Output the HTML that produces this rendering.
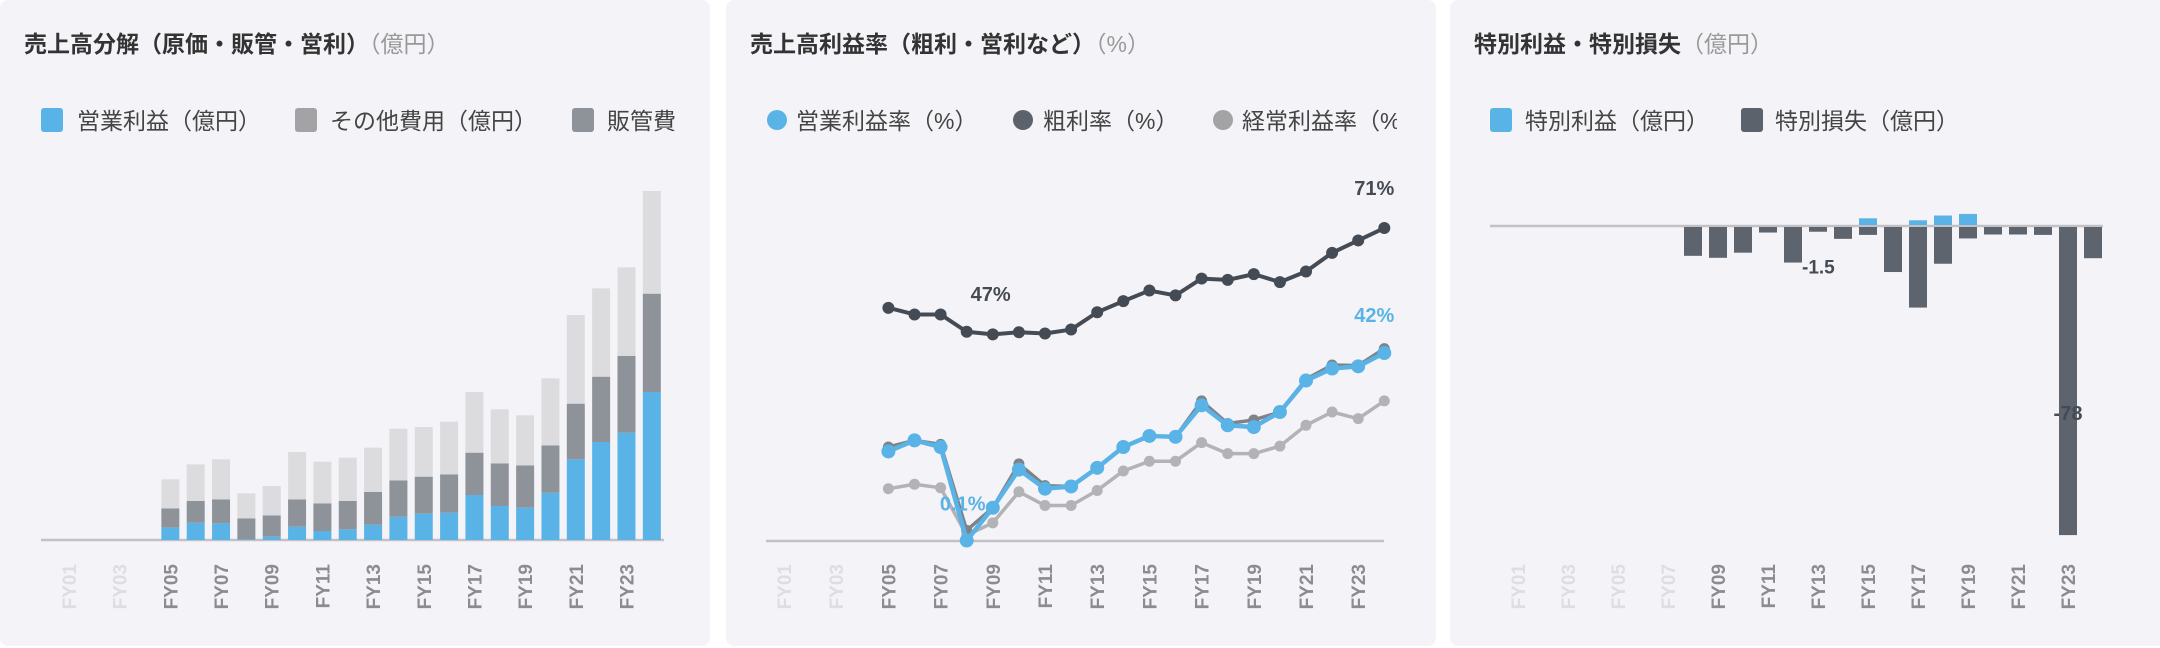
<!DOCTYPE html>
<html><head><meta charset="utf-8">
<style>
html,body{margin:0;padding:0;background:#fff;width:2160px;height:648px;overflow:hidden}
svg{display:block;font-family:"Liberation Sans","Noto Sans CJK JP",sans-serif}
</style></head>
<body>
<svg id="c" width="2160" height="648" viewBox="0 0 2160 648" xmlns="http://www.w3.org/2000/svg">
  <rect x="0" y="0" width="710" height="646" rx="8" fill="#f4f4f8"/>
  <rect x="726" y="0" width="710" height="646" rx="8" fill="#f4f4f8"/>
  <rect x="1450" y="0" width="716" height="646" rx="8" fill="#f4f4f8"/>

  <text x="24" y="52" font-size="23" font-weight="bold" fill="#333">売上高分解（原価・販管・営利）<tspan font-weight="normal" fill="#999">（億円）</tspan></text>
  <rect x="41" y="108" width="22" height="24" rx="3" fill="#5ab3e6"/>
  <text x="77" y="129" font-size="23" fill="#444">営業利益（億円）</text>
  <rect x="295" y="108" width="22" height="24" rx="3" fill="#a3a3a6"/>
  <text x="330" y="129" font-size="23" fill="#444">その他費用（億円）</text>
  <rect x="572" y="108" width="22" height="24" rx="3" fill="#8e939a"/>
  <text x="607" y="129" font-size="23" fill="#444">販管費</text>

  <text x="750" y="52" font-size="23" font-weight="bold" fill="#333">売上高利益率（粗利・営利など）<tspan font-weight="normal" fill="#999">（%）</tspan></text>
  <circle cx="777" cy="120" r="10" fill="#5ab3e6"/>
  <text x="796" y="129" font-size="23" fill="#444">営業利益率（%）</text>
  <circle cx="1023" cy="120" r="10" fill="#5b626c"/>
  <text x="1043" y="129" font-size="23" fill="#444">粗利率（%）</text>
  <circle cx="1223" cy="120" r="10" fill="#a3a3a6"/>
  <svg x="1240" y="95" width="157" height="45"><text x="2" y="34" font-size="23" fill="#444">経常利益率（%）</text></svg>

  <text x="1474" y="52" font-size="23" font-weight="bold" fill="#333">特別利益・特別損失<tspan font-weight="normal" fill="#999">（億円）</tspan></text>
  <rect x="1490" y="108" width="22" height="24" rx="3" fill="#5ab3e6"/>
  <text x="1525" y="129" font-size="23" fill="#444">特別利益（億円）</text>
  <rect x="1741" y="108" width="22" height="24" rx="3" fill="#5b626c"/>
  <text x="1775" y="129" font-size="23" fill="#444">特別損失（億円）</text>
  <g id="g1"></g><g id="g2"></g><g id="g3"></g>
</svg>
<script>
const categories = ["FY01","FY02","FY03","FY04","FY05","FY06","FY07","FY08","FY09","FY10","FY11","FY12","FY13","FY14","FY15","FY16","FY17","FY18","FY19","FY20","FY21","FY22","FY23","FY24"];
// Chart 1 (億円)
const opProfit = [null,null,null,null,3.7,5.2,5.0,0.2,1.0,4.0,2.7,3.2,4.6,7.0,7.9,8.2,13.5,10.2,9.7,14.2,24.2,29.4,32.2,44.4];
const sgaCost = [null,null,null,null,5.8,6.5,7.2,6.3,6.4,8.2,8.3,8.5,9.8,10.9,11.1,11.5,12.7,12.8,12.7,14.2,16.7,19.6,23.0,29.5];
const otherCost = [null,null,null,null,8.7,11.0,12.0,7.5,8.8,14.2,12.5,13.0,13.3,15.5,14.9,15.8,18.2,16.2,15.0,20.1,26.6,26.5,26.6,30.8];
// Chart 2 (%)
const opMargin = [null,null,null,null,20.2,22.7,21.2,0.1,7.5,16.1,11.8,12.3,16.5,21.2,23.7,23.5,30.6,26.1,25.7,29.1,36.2,38.9,39.4,42.4];
const grossMargin = [null,null,null,null,52.6,51.1,51.1,47.2,46.6,47.1,46.8,47.7,51.6,54.1,56.5,55.4,59.2,58.9,60.2,58.4,60.8,65.0,67.8,70.6];
const ordinaryMargin = [null,null,null,null,11.8,12.8,12.0,1.3,4.1,11.1,8.0,8.0,11.4,15.8,18.0,18.0,22.2,19.7,19.7,21.4,26.1,29.1,27.6,31.6];
const preTaxMargin = [null,null,null,null,21.2,22.7,21.8,2.4,7.5,17.4,12.5,12.3,16.5,21.2,23.7,23.5,31.6,26.5,27.3,29.1,36.5,39.7,39.6,43.4];
// Chart 3 (億円)
const specialGain = [null,null,null,null,null,null,null,0,0,0,0,0,0,0,1.7,0,1.2,2.4,2.8,0,0,0,0,0];
const specialLoss = [null,null,null,null,null,null,null,7.3,7.8,6.5,1.4,9.0,1.2,3.0,2.0,11.4,20.4,9.3,2.9,1.9,1.9,2.0,78,7.9];
const tickLabels = ["FY01","FY03","FY05","FY07","FY09","FY11","FY13","FY15","FY17","FY19","FY21","FY23"];

const NS="http://www.w3.org/2000/svg";
function mk(tag,attrs,parent){const e=document.createElementNS(NS,tag);for(const k in attrs)e.setAttribute(k,attrs[k]);parent.appendChild(e);return e;}

function axisX(g,x,x0,x1,y,firstActive){
  const ln=mk('line',{x1:x0,x2:x1,y1:y,y2:y,stroke:'#c2c2c6','stroke-width':2.5},g);
  
  
  tickLabels.forEach(lab=>{
    const i=categories.indexOf(lab);const cx=x(i)+7;
    const t=mk('text',{x:cx,y:564,transform:`rotate(-90 ${cx} 564)`,'text-anchor':'end','font-size':19,'font-weight':'bold',fill:i>=firstActive?'#8c8c8e':'#dedee2'},g);
    t.textContent=lab;
    
    
  });
}

// Chart 1
(function(){
  const g=document.getElementById('g1');
  const x=i=>69+i*25.34, base=540, k=1/3*10;
  const y=v=>base-v*k;
  axisX(g,x,41,664,base,4);
  categories.forEach((c,i)=>{
    if(opProfit[i]==null)return;
    let acc=0;
    [[opProfit,'#5ab3e6','op-profit'],[sgaCost,'#8e939a','sga'],[otherCost,'#dcdcdf','other-costs']].forEach(([arr,col,nm])=>{
      const v=arr[i];const r=mk('rect',{x:x(i)-9,y:y(acc+v),width:18,height:v*k,fill:col},g);
      
      
      acc+=v;
    });
  });
})();

// Chart 2
(function(){
  const g=document.getElementById('g2');
  const x=i=>784+i*26.1, base=541, k=4.433;
  const y=v=>base-v*k;
  axisX(g,x,766,1384,base,4);
  const series=[[ordinaryMargin,'#b3b3b6','ordinary-margin',3.5,5.5],[preTaxMargin,'#7f8287','pretax-margin',3.5,5.5],[grossMargin,'#444b55','gross-margin',4,6],[opMargin,'#5ab3e6','op-margin',4.5,7]];
  series.forEach(([arr,col,nm,w,r])=>{
    const pts=[];arr.forEach((v,i)=>{if(v!=null)pts.push([x(i),y(v)]);});
    const p=mk('polyline',{points:pts.map(p=>p.join(',')).join(' '),fill:'none',stroke:col,'stroke-width':w,'stroke-linejoin':'round'},g);
    
    
    arr.forEach((v,i)=>{if(v==null)return;
      const c=mk('circle',{cx:x(i),cy:y(v),r:r,fill:col},g);
      
      
    });
  });
  const labs=[[grossMargin,23,'#444b55',-10,-33],[grossMargin,7,'#444b55',24,-31],[opMargin,23,'#5ab3e6',-10,-31],[opMargin,7,'#5ab3e6',-4,-30]];
  labs.forEach(([arr,i,col,dx,dy])=>{
    const v=arr[i];const t=mk('text',{x:x(i)+dx,y:y(v)+dy,'text-anchor':'middle','font-size':20,'font-weight':'bold',fill:col},g);
    t.textContent=(v<1?v.toFixed(1):Math.round(v))+'%';
    
    
  });
})();

// Chart 3
(function(){
  const g=document.getElementById('g3');
  const x=i=>1518+i*25.0, base=226, k=3.95;
  axisX(g,x,1490,2103,base,8);
  categories.forEach((c,i)=>{
    const gv=specialGain[i], lv=specialLoss[i];
    if(gv){const r=mk('rect',{x:x(i)-9,y:base-gv*k-1,width:18,height:gv*k,fill:'#5ab3e6'},g);
      
      }
    if(lv){const r=mk('rect',{x:x(i)-9,y:base+1,width:18,height:lv*k,fill:'#5d646e'},g);
      
      }
  });
  const t1=mk('text',{x:x(11)+9,y:base+specialLoss[11]*k+12,'font-size':19,'font-weight':'bold',fill:'#444b55'},g);
  t1.textContent='-1.5';
  
  
  const t2=mk('text',{x:x(22),y:base+specialLoss[22]*k/2+40,'text-anchor':'middle','font-size':20,'font-weight':'bold',fill:'#444b55'},g);
  t2.textContent='-'+specialLoss[22];
  
  
})();
</script>
</body></html>
